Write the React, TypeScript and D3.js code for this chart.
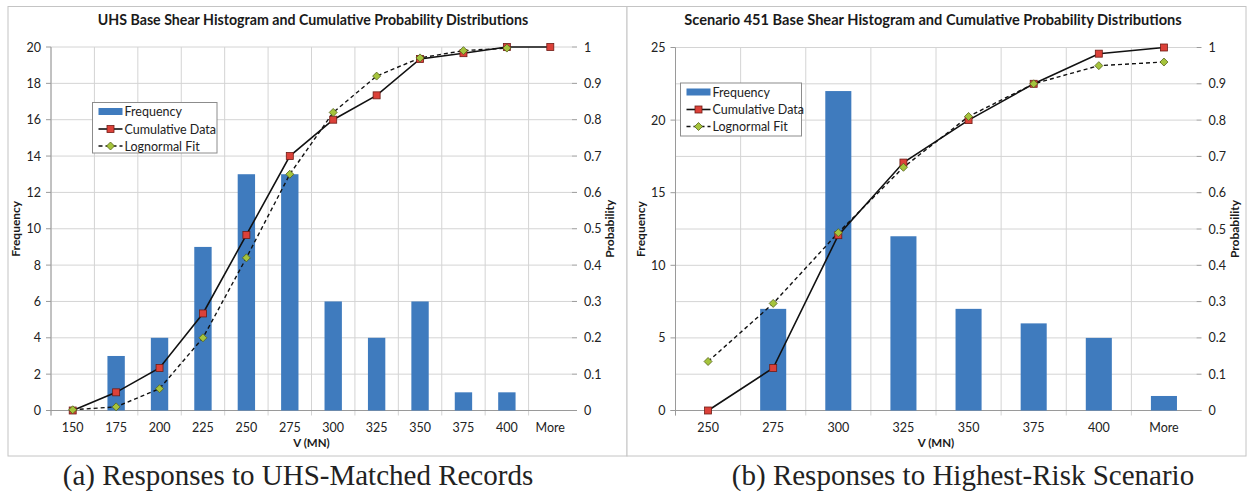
import React from 'react';
import * as d3 from 'd3';

// (a) UHS-matched records
const catsA = ['150', '175', '200', '225', '250', '275', '300', '325', '350', '375', '400', 'More'];
const freqA = [0, 3, 4, 9, 13, 13, 6, 4, 6, 1, 1, 0];
const cumA = [0, 0.05, 0.117, 0.267, 0.483, 0.7, 0.8, 0.867, 0.967, 0.983, 1, 1];
const fitA = [0.002, 0.01, 0.06, 0.2, 0.42, 0.65, 0.82, 0.92, 0.97, 0.99, 0.997];
const freqTicksA = [0, 2, 4, 6, 8, 10, 12, 14, 16, 18, 20];

// (b) highest-risk scenario
const catsB = ['250', '275', '300', '325', '350', '375', '400', 'More'];
const freqB = [0, 7, 22, 12, 7, 6, 5, 1];
const cumB = [0, 0.117, 0.483, 0.683, 0.8, 0.9, 0.983, 1];
const fitB = [0.135, 0.295, 0.49, 0.67, 0.81, 0.9, 0.95, 0.96];
const freqTicksB = [0, 5, 10, 15, 20, 25];

const probTicks = [0, 0.1, 0.2, 0.3, 0.4, 0.5, 0.6, 0.7, 0.8, 0.9, 1];

const BLUE = '#3f7bbe';
const RED = '#dc4139';
const GREEN = '#a5c43c';
const GRID = '#d4d4d4';
const AXIS = '#9a9a9a';
const FONT = 'Lato, "Open Sans", sans-serif';

type ChartProps = {
  px0: number; px1: number;
  left: number; right: number; top: number; bottom: number;
  title: string; titleX: number; titleSize: number;
  caption: string; captionX: number;
  cats: string[]; freq: number[]; cum: number[]; fit: number[];
  freqTicks: number[];
  legend: { x: number; y: number; w: number; h: number };
};

function Square({ x, y }: { x: number; y: number }) {
  return <rect x={x - 3.5} y={y - 3.5} width={7} height={7} fill={RED} stroke="#6e1c16" strokeWidth={0.8} />;
}

function Diamond({ x, y }: { x: number; y: number }) {
  const r = 4;
  return (
    <path
      d={`M${x},${y - r}L${x + r},${y}L${x},${y + r}L${x - r},${y}Z`}
      fill={GREEN}
      stroke="#55621c"
      strokeWidth={0.8}
    />
  );
}

function Chart(p: ChartProps) {
  const x = d3.scaleBand<string>().domain(p.cats).range([p.left, p.right]).padding(0);
  const bw = x.bandwidth();
  const cx = (c: string) => (x(c) as number) + bw / 2;
  const fMax = p.freqTicks[p.freqTicks.length - 1];
  const yF = d3.scaleLinear().domain([0, fMax]).range([p.bottom, p.top]);
  const yP = d3.scaleLinear().domain([0, 1]).range([p.bottom, p.top]);

  const cumLine = d3.line<number>().x((_, i) => cx(p.cats[i])).y((d) => yP(d));
  const fitLine = d3.line<number>().x((_, i) => cx(p.cats[i])).y((d) => yP(d));

  const midY = (p.top + p.bottom) / 2;
  const midX = (p.left + p.right) / 2;
  const lg = p.legend;
  const rows = [lg.y + 9, lg.y + 26.5, lg.y + 43.5];
  const sw0 = lg.x + 6;
  const sw1 = lg.x + 30;

  return (
    <g>
      {/* panel frame */}
      <rect x={p.px0} y={6.5} width={p.px1 - p.px0} height={449.5} fill="#fff" stroke="#c4c4c4" strokeWidth={1} />

      <text x={p.titleX} y={25} textAnchor="middle" fontFamily={FONT} fontWeight="bold" fontSize={p.titleSize} fill="#1a1a1a">
        {p.title}
      </text>

      {/* horizontal grid */}
      {probTicks.map((t) => (
        <line key={'h' + t} x1={p.left} x2={p.right} y1={yP(t)} y2={yP(t)} stroke={GRID} strokeWidth={1} />
      ))}
      {/* vertical grid at category boundaries */}
      {p.cats.map((c) => (
        <line key={'v' + c} x1={x(c)} x2={x(c)} y1={p.top} y2={p.bottom + 5} stroke={GRID} strokeWidth={1} />
      ))}

      {/* axes */}
      <line x1={p.left - 5} x2={p.right + 5} y1={p.bottom} y2={p.bottom} stroke={AXIS} strokeWidth={1} />
      <line x1={p.left} x2={p.left} y1={p.top} y2={p.bottom + 5} stroke={AXIS} strokeWidth={1} />
      {p.freqTicks.map((t) => (
        <g key={'lf' + t}>
          <line x1={p.left - 5} x2={p.left} y1={yF(t)} y2={yF(t)} stroke={AXIS} />
          <text x={p.left - 10} y={yF(t) + 4.5} textAnchor="end" fontFamily={FONT} fontSize={12.5} fill="#222">
            {t}
          </text>
        </g>
      ))}
      {probTicks.map((t) => (
        <g key={'rp' + t}>
          <line x1={p.right} x2={p.right + 5} y1={yP(t)} y2={yP(t)} stroke={AXIS} />
          <text x={p.right + 12} y={yP(t) + 4.5} textAnchor="start" fontFamily={FONT} fontSize={12.5} fill="#222">
            {String(Math.round(t * 10) / 10)}
          </text>
        </g>
      ))}
      {p.cats.map((c) => (
        <text key={'xl' + c} x={cx(c)} y={p.bottom + 21} textAnchor="middle" fontFamily={FONT} fontSize={12.5} fill="#222">
          {c}
        </text>
      ))}

      {/* axis titles */}
      <text x={midX} y={p.bottom + 36} textAnchor="middle" fontFamily={FONT} fontWeight="bold" fontSize={11.5} fill="#1a1a1a">
        V (MN)
      </text>
      <text
        transform={`translate(${p.left - 31},${midY}) rotate(-90)`}
        textAnchor="middle"
        fontFamily={FONT}
        fontWeight="bold"
        fontSize={12}
        fill="#1a1a1a"
      >
        Frequency
      </text>
      <text
        transform={`translate(${p.right + 42},${midY}) rotate(-90)`}
        textAnchor="middle"
        fontFamily={FONT}
        fontWeight="bold"
        fontSize={12}
        fill="#1a1a1a"
      >
        Probability
      </text>

      {/* bars */}
      {p.cats.map((c, i) => (
        <rect key={'b' + c} x={cx(c) - bw * 0.2} width={bw * 0.4} y={yF(p.freq[i])} height={p.bottom - yF(p.freq[i])} fill={BLUE} />
      ))}

      {/* cumulative data */}
      <path d={cumLine(p.cum) || ''} fill="none" stroke="#111" strokeWidth={1.6} />
      {/* lognormal fit */}
      <path d={fitLine(p.fit) || ''} fill="none" stroke="#111" strokeWidth={1.4} strokeDasharray="4,3" />
      {p.cum.map((v, i) => (
        <Square key={'s' + i} x={cx(p.cats[i])} y={yP(v)} />
      ))}
      {p.fit.map((v, i) => (
        <Diamond key={'d' + i} x={cx(p.cats[i])} y={yP(v)} />
      ))}

      {/* legend */}
      <rect x={lg.x} y={lg.y} width={lg.w} height={lg.h} fill="#fff" stroke="#8c8c8c" strokeWidth={1} />
      <rect x={sw0} y={rows[0] - 3.5} width={sw1 - sw0} height={7} fill={BLUE} />
      <line x1={sw0} x2={sw1} y1={rows[1]} y2={rows[1]} stroke="#111" strokeWidth={1.6} />
      <Square x={(sw0 + sw1) / 2} y={rows[1]} />
      <line x1={sw0} x2={sw1} y1={rows[2]} y2={rows[2]} stroke="#111" strokeWidth={1.4} strokeDasharray="4,3" />
      <Diamond x={(sw0 + sw1) / 2} y={rows[2]} />
      {['Frequency', 'Cumulative Data', 'Lognormal Fit'].map((t, i) => (
        <text key={t} x={sw1 + 2} y={rows[i] + 4.5} fontFamily={FONT} fontSize={12.5} fill="#222">
          {t}
        </text>
      ))}

      {/* caption */}
      <text x={p.captionX} y={485} textAnchor="middle" fontFamily='"Liberation Serif", "Times New Roman", serif' fontSize={29} fill="#222">
        {p.caption}
      </text>
    </g>
  );
}

export default function App() {
  return (
    <svg width={1247} height={493} style={{ position: 'absolute', left: 0, top: 0, background: '#fff' }}>
      <rect x={0} y={0} width={1247} height={493} fill="#fff" />
      <Chart
        px0={8} px1={627}
        left={51} right={572} top={47} bottom={410.5}
        title="UHS Base Shear Histogram and Cumulative Probability Distributions" titleX={313} titleSize={14.2}
        caption="(a) Responses to UHS-Matched Records" captionX={298}
        cats={catsA} freq={freqA} cum={cumA} fit={fitA}
        freqTicks={freqTicksA}
        legend={{ x: 92.5, y: 102.5, w: 124.5, h: 50.5 }}
      />
      <Chart
        px0={627} px1={1246}
        left={675.5} right={1196.5} top={47.5} bottom={410.5}
        title="Scenario 451 Base Shear Histogram and Cumulative Probability Distributions" titleX={933} titleSize={14.6}
        caption="(b) Responses to Highest-Risk Scenario" captionX={963}
        cats={catsB} freq={freqB} cum={cumB} fit={fitB}
        freqTicks={freqTicksB}
        legend={{ x: 680.5, y: 83, w: 121, h: 53 }}
      />
    </svg>
  );
}
